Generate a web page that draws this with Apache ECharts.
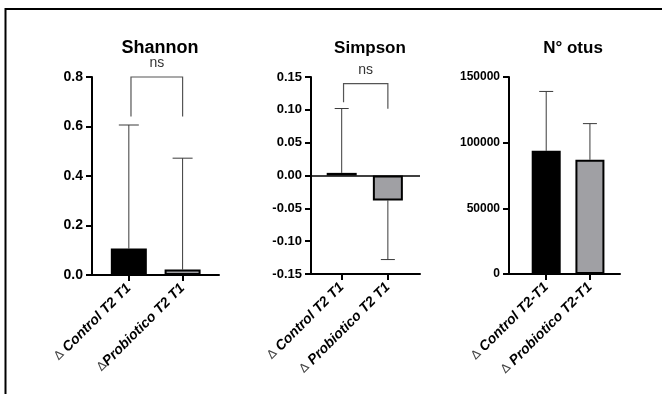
<!DOCTYPE html>
<html>
<head>
<meta charset="utf-8">
<script src="https://cdn.jsdelivr.net/npm/echarts@6/dist/echarts.min.js"></script>
<style>
  html, body { margin: 0; padding: 0; background: #fff; }
  #chart { width: 662px; height: 394px; }
</style>
</head>
<body>
<div id="chart"></div>
<script>
// Group labels for each panel
const shannonGroups = ['Control T2 T1', 'Probiotico T2 T1'];
const simpsonGroups = ['Control T2 T1', 'Probiotico T2 T1'];
const otusGroups = ['Control T2-T1', 'Probiotico T2-T1'];
// Separator between the delta sign and the group name
const shannonSep = [' ', ''];
const simpsonSep = [' ', ' '];
const otusSep = [' ', ' '];

// Mean change and SD per group
const shannonMean = [0.107, 0.022];
const shannonSD = [0.499, 0.450];
const simpsonMean = [0.004, -0.038];
const simpsonSD = [0.098, 0.090];
const otusMean = [93800, 87000];
const otusSD = [45200, 27500];

// Comparison brackets: [from group, to group, top, left leg end, right leg end]
const shannonBracket = [1.04, 2, 0.80, 0.64, 0.64];
const simpsonBracket = [1.04, 2, 0.14, 0.1115, 0.1015];
const bracketLabel = 'ns';

const panelTitles = ['Shannon', 'Simpson', 'N° otus'];

const BLACK = '#000000';
const GREY = '#a0a0a4';
const FONT = '"Liberation Sans", Arial, Helvetica, sans-serif';

const chart = echarts.init(document.getElementById('chart'), null, { renderer: 'canvas' });

function xAxisFor(idx, groups, seps, min, max) {
  return {
    type: 'value', gridIndex: idx, min: min, max: max,
    splitLine: { show: false },
    axisLine: { onZero: false, lineStyle: { color: BLACK, width: 2 } },
    axisTick: { customValues: [1, 2], length: 6, lineStyle: { color: BLACK, width: 2 } },
    axisLabel: {
      customValues: [1, 2],
      rotate: 45, margin: 11, color: BLACK,
      fontFamily: FONT, fontSize: 14, fontWeight: 'bold', fontStyle: 'italic',
      formatter: v => {
        const i = Math.round(v) - 1;
        return '{d|∆}' + seps[i] + groups[i];
      },
      rich: { d: { fontFamily: '"DejaVu Sans", sans-serif', fontSize: 12, fontWeight: 'normal', fontStyle: 'normal', color: '#444' } }
    }
  };
}

function yAxisFor(idx, min, max, interval, fmt, fs) {
  return {
    type: 'value', gridIndex: idx, min: min, max: max, interval: interval,
    splitLine: { show: false },
    axisLine: { show: true, onZero: false, lineStyle: { color: BLACK, width: 2 } },
    axisTick: { show: true, length: 6, lineStyle: { color: BLACK, width: 2 } },
    axisLabel: {
      margin: 9, color: BLACK, fontFamily: FONT, fontSize: fs, fontWeight: 'bold',
      formatter: fmt
    }
  };
}

function barSeries(idx, means, width) {
  return {
    type: 'bar', xAxisIndex: idx, yAxisIndex: idx, barWidth: width, z: 3,
    data: means.map((m, i) => ({
      value: [i + 1, m],
      itemStyle: { color: i === 0 ? BLACK : GREY, borderColor: BLACK, borderWidth: 2 }
    }))
  };
}

function errorSeries(idx, means, sds, capHalf) {
  return {
    type: 'custom', xAxisIndex: idx, yAxisIndex: idx, z: 2,
    encode: { x: 0, y: 1 },
    data: means.map((m, i) => [i + 1, m, sds[i]]),
    renderItem: function (params, api) {
      const x = api.value(0), m = api.value(1), s = api.value(2);
      const end = m + (m < 0 ? -s : s);
      const p0 = api.coord([x, m]);
      const p1 = api.coord([x, end]);
      const st = { stroke: '#3a3a3a', lineWidth: 1, fill: null };
      return {
        type: 'group', children: [
          { type: 'line', shape: { x1: p0[0], y1: p0[1], x2: p1[0], y2: p1[1] }, style: st },
          { type: 'line', shape: { x1: p1[0] - capHalf, y1: p1[1], x2: p1[0] + capHalf, y2: p1[1] }, style: st }
        ]
      };
    }
  };
}

function bracketSeries(idx, b, gap) {
  return {
    type: 'custom', xAxisIndex: idx, yAxisIndex: idx, z: 4,
    encode: { x: [0, 1], y: [2, 3, 4] },
    data: [b],
    renderItem: function (params, api) {
      const a = api.coord([api.value(0), api.value(3)]);
      const t1 = api.coord([api.value(0), api.value(2)]);
      const t2 = api.coord([api.value(1), api.value(2)]);
      const c = api.coord([api.value(1), api.value(4)]);
      return {
        type: 'group', children: [
          { type: 'polyline', shape: { points: [a, t1, t2, c] },
            style: { stroke: '#555555', lineWidth: 1.2, fill: null } },
          { type: 'text', style: {
              text: bracketLabel, x: (t1[0] + t2[0]) / 2, y: t1[1] - gap,
              textAlign: 'center', textVerticalAlign: 'bottom',
              font: '14px ' + FONT, fill: '#333333' } }
        ]
      };
    }
  };
}

const option = {
  animation: false,
  backgroundColor: '#ffffff',
  title: [
    { text: panelTitles[0], left: 155, top: 34, textAlign: 'center',
      textStyle: { fontFamily: FONT, fontSize: 18, fontWeight: 'bold', color: BLACK } },
    { text: panelTitles[1], left: 365, top: 35, textAlign: 'center',
      textStyle: { fontFamily: FONT, fontSize: 17, fontWeight: 'bold', color: BLACK } },
    { text: panelTitles[2], left: 568, top: 35, textAlign: 'center',
      textStyle: { fontFamily: FONT, fontSize: 17, fontWeight: 'bold', color: BLACK } }
  ],
  grid: [
    { left: 92, top: 77, width: 127, height: 198 },
    { left: 311, top: 77, width: 109, height: 197 },
    { left: 509, top: 77, width: 111, height: 197 }
  ],
  xAxis: [
    xAxisFor(0, shannonGroups, shannonSep, 0.315, 2.677),
    xAxisFor(1, simpsonGroups, simpsonSep, 0.335, 2.696),
    xAxisFor(2, otusGroups, otusSep, 0.149, 2.688)
  ],
  yAxis: [
    yAxisFor(0, 0, 0.8, 0.2, v => v.toFixed(1), 14),
    yAxisFor(1, -0.15, 0.15, 0.05, v => (Math.abs(v) < 1e-9 ? 0 : v).toFixed(2), 13),
    yAxisFor(2, 0, 150000, 50000, v => String(Math.round(v)), 12)
  ],
  series: [
    barSeries(0, shannonMean, 36),
    errorSeries(0, shannonMean, shannonSD, 10),
    bracketSeries(0, shannonBracket, 7),

    Object.assign(barSeries(1, simpsonMean, 30), {
      markLine: {
        silent: true, symbol: 'none', label: { show: false },
        lineStyle: { color: BLACK, width: 1.5, type: 'solid' },
        data: [{ yAxis: 0 }]
      }
    }),
    errorSeries(1, simpsonMean, simpsonSD, 7),
    bracketSeries(1, simpsonBracket, 6),

    barSeries(2, otusMean, 29),
    errorSeries(2, otusMean, otusSD, 7)
  ],
  graphic: [
    { type: 'polyline', silent: true,
      shape: { points: [[5.5, 394], [5.5, 9], [662, 9]] },
      style: { stroke: BLACK, lineWidth: 2, fill: null } }
  ]
};

chart.setOption(option);
</script>
</body>
</html>
